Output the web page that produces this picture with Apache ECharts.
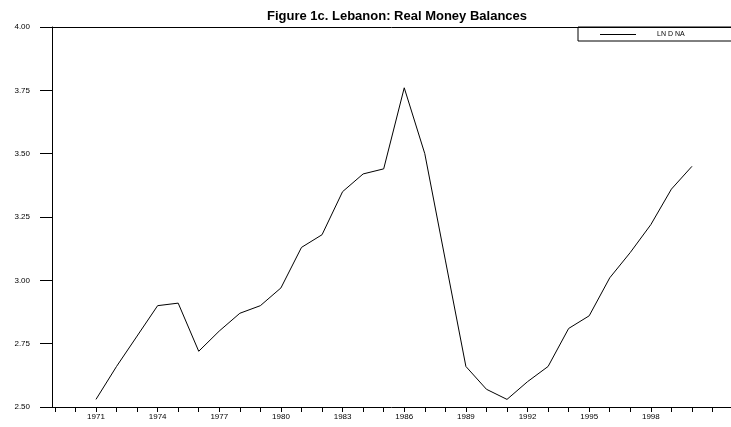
<!DOCTYPE html>
<html>
<head>
<meta charset="utf-8">
<script src="https://cdn.jsdelivr.net/npm/echarts@6/dist/echarts.min.js"></script>
<style>
  html, body { margin: 0; padding: 0; background: #fff; }
  #chart { width: 731px; height: 427px; }
</style>
</head>
<body>
<div id="chart"></div>
<script>
// years and log real money balances
var years = [1971, 1972, 1973, 1974, 1975, 1976, 1977, 1978, 1979, 1980,
  1981, 1982, 1983, 1984, 1985, 1986, 1987, 1988, 1989, 1990,
  1991, 1992, 1993, 1994, 1995, 1996, 1997, 1998, 1999, 2000]
var balances = [2.53, 2.66, 2.78, 2.90, 2.91, 2.72, 2.80, 2.87, 2.90, 2.97,
  3.13, 3.18, 3.35, 3.42, 3.44, 3.76, 3.50, 3.08, 2.66, 2.57,
  2.53, 2.60, 2.66, 2.81, 2.86, 3.01, 3.11, 3.22, 3.36, 3.45]
var tickYears = []
for (var y = 1969; y <= 2001; y++) tickYears.push(y)
var labelYears = [1971, 1974, 1977, 1980, 1983, 1986, 1989, 1992, 1995, 1998]
var seriesName = 'LN D NA'

var font = "'Liberation Sans Narrow', 'Liberation Sans', Arial, sans-serif"
var chart = echarts.init(document.getElementById('chart'))
chart.setOption({
  animation: false,
  backgroundColor: '#fff',
  title: {
    text: 'Figure 1c. Lebanon: Real Money Balances',
    left: 392,
    textAlign: 'center',
    top: 5,
    textStyle: { fontFamily: font, fontSize: 13, fontWeight: 'bold', color: '#000' }
  },
  legend: {
    data: [seriesName],
    left: 578,
    top: 27,
    itemWidth: 36,
    itemHeight: 6,
    itemGap: 4,
    padding: [4, 60, 3, 22],
    borderColor: '#000',
    borderWidth: 1,
    icon: 'path://M0,0H36V1H0Z',
    textStyle: { fontFamily: font, fontSize: 7, color: '#000', padding: [0, 0, 0, 16] }
  },
  grid: { left: 52, right: 0, top: 27, bottom: 20 },
  xAxis: [{
    type: 'value',
    min: 1968.86,
    max: 2001.9,
    axisLine: { lineStyle: { color: '#000', width: 1 } },
    axisTick: { customValues: tickYears, length: 5, lineStyle: { color: '#000' } },
    axisLabel: {
      customValues: labelYears,
      fontFamily: font, fontSize: 8, color: '#000', margin: 6,
      formatter: function (v) { return String(v) }
    },
    splitLine: { show: false }
  }, {
    type: 'value',
    position: 'top',
    min: 1968.86,
    max: 2001.9,
    axisLine: { lineStyle: { color: '#000', width: 1 } },
    axisTick: { show: false },
    axisLabel: { show: false },
    splitLine: { show: false }
  }],
  yAxis: {
    type: 'value',
    min: 2.5,
    max: 4,
    interval: 0.25,
    axisLine: { show: true, lineStyle: { color: '#000', width: 1 } },
    axisTick: { length: 12, lineStyle: { color: '#000' } },
    axisLabel: {
      fontFamily: font, fontSize: 8, color: '#000', margin: 22,
      formatter: function (v) { return v.toFixed(2) }
    },
    splitLine: { show: false }
  },
  series: [{
    name: seriesName,
    type: 'line',
    data: years.map(function (yr, i) { return [yr, balances[i]] }),
    showSymbol: false,
    lineStyle: { color: '#000', width: 1 },
    itemStyle: { color: '#000' }
  }]
})
</script>
</body>
</html>
